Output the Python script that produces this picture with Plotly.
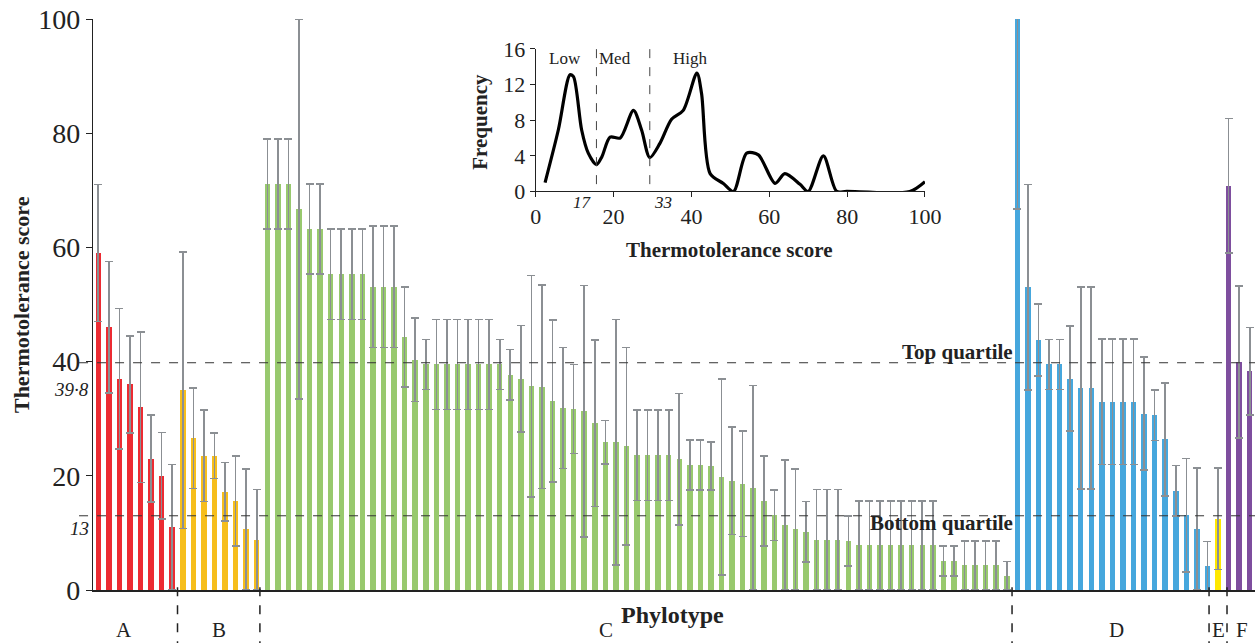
import plotly.graph_objects as go

# ---------------- data ----------------
A_vals = [59, 46, 37, 36, 32, 23, 20, 11]
A_err = [12, 11.5, 12.3, 8.5, 13.2, 7.6, 7.6, 11]
B_vals = [35, 26.6, 23.5, 23.5, 17.2, 15.6, 10.6, 8.8]
B_err = [24.2, 8.8, 8, 4, 5.1, 7.9, 10.6, 8.8]
C_vals = [71.1, 71.1, 71.1, 66.7, 63.2, 63.2, 55.3, 55.3, 55.3, 55.3,
          53.1, 53.1, 53.1, 44.3, 40.3, 39.5, 39.5, 39.5, 39.5, 39.5,
          39.5, 39.5, 39.5, 37.7, 37.0, 35.7, 35.6, 33.1, 31.9, 31.7,
          31.3, 29.2, 25.9, 25.9, 25.2, 23.6, 23.6, 23.6, 23.6, 22.9,
          21.9, 21.9, 21.7, 19.8, 19.1, 18.6, 17.9, 15.6, 13.1, 11.4,
          10.6, 10.2, 8.8, 8.8, 8.8, 8.6, 7.8, 7.8, 7.8, 7.8,
          7.8, 7.8, 7.8, 7.8, 5.1, 5.1, 4.3, 4.3, 4.3, 4.3, 2.5]
C_err = [7.9, 7.9, 7.9, 33.3, 7.9, 7.9, 7.9, 7.9, 7.9, 7.9,
         10.6, 10.6, 10.6, 8.8, 7.3, 4.4, 7.9, 7.9, 7.9, 7.9,
         7.9, 7.9, 4.4, 4.4, 9.3, 19.4, 17.8, 14.2, 10.6, 7.8,
         22, 14.6, 3.8, 21.5, 17.3, 7.9, 7.9, 7.9, 7.9, 11.5,
         4.4, 4.4, 4.2, 17.2, 9.4, 9.2, 17.9, 7.9, 4.4, 11.4,
         10.6, 5.3, 8.8, 8.8, 8.8, 4.4, 7.8, 7.8, 7.8, 7.8,
         7.8, 7.8, 7.8, 7.8, 2.6, 2.6, 4.3, 4.3, 4.3, 4.3, 2.5]
D_vals = [100, 53, 43.8, 39.5, 39.5, 37, 35.4, 35.4, 33, 33, 33, 33,
          30.9, 30.6, 26.4, 17.4, 13.1, 10.7, 4.2]
D_err = [33.3, 18, 6.3, 4.4, 4.4, 9.2, 17.7, 17.7, 11, 11, 11, 11,
         9.9, 4.4, 9.9, 4.4, 9.9, 10.7, 4.3]
E_vals = [12.5]
E_err = [8.9]
F_vals = [70.8, 39.9, 38.3]
F_err = [11.8, 13.3, 7.7]

groups = ["A", "B", "C", "D", "E", "F"]
group_vals = [A_vals, B_vals, C_vals, D_vals, E_vals, F_vals]
group_errs = [A_err, B_err, C_err, D_err, E_err, F_err]
group_colors = ["#EC2B32", "#F6BE1B", "#98C96E", "#46A7DD", "#FFE800", "#7E4E9E"]
group_label_x = [2.43, 11.43, 48.06, 96.43, 106.0, 108.3]
separators = [7.5, 15.3, 86.5, 105.15, 106.85]

top_quartile = 39.8
bottom_quartile = 13

# inset frequency curve
freq_x = [2.4, 5.8, 8.8, 9.7, 11.8, 13.5, 15.6, 17.0, 19.1, 21.7, 25.1, 27.2,
          29.3, 31.9, 34.9, 37.9, 41.4, 42.6, 44.8, 48.2, 50.8, 54.2, 57.2,
          61.5, 64.0, 67.9, 70.0, 73.9, 77.3, 79.9, 96.1, 100]
freq_y = [1.0, 6.9, 13.1, 12.9, 6.9, 4.3, 3.0, 3.9, 6.1, 6.0, 9.1, 6.9,
          3.8, 5.4, 8.1, 9.1, 13.3, 11.0, 2.0, 0.9, 0.0, 4.3, 4.1,
          0.9, 2.0, 0.8, 0.0, 4.0, 0.0, 0.0, 0.0, 1.1]
inset_cuts = [15.6, 29.3]
inset_cut_labels = ["17", "33"]
inset_classes = ["Low", "Med", "High"]
inset_class_x = [7.5, 20.4, 39.7]

FONT = "Liberation Serif"
ERRC = "#8b8f93"
TXT = "#222"
INSET_X = [0.381, 0.716]
INSET_Y = [0.698, 0.9475]

fig = go.Figure()
start = 0
for g, vals, errs, col in zip(groups, group_vals, group_errs, group_colors):
    xs = list(range(start, start + len(vals)))
    start += len(vals)
    fig.add_trace(go.Bar(
        x=xs, y=vals, width=0.52, marker=dict(color=col, line=dict(width=0)),
        error_y=dict(type="data", array=errs, visible=True, color=ERRC,
                     thickness=1.6, width=4),
        showlegend=False, name=g))

fig.add_trace(go.Scatter(
    x=freq_x, y=freq_y, mode="lines", xaxis="x2", yaxis="y2",
    line=dict(color="black", width=3.2, shape="spline", smoothing=0.8),
    showlegend=False))

shapes = []
for s in separators:
    shapes.append(dict(type="line", xref="x", yref="paper", x0=s, x1=s,
                       y0=0.005, y1=-0.095,
                       line=dict(color=TXT, width=1.5, dash="dash")))
for q in [top_quartile, bottom_quartile]:
    shapes.append(dict(type="line", xref="paper", yref="y", x0=-0.012, x1=1.0,
                       y0=q, y1=q, line=dict(color="#333", width=1, dash="dash")))
for c in inset_cuts:
    shapes.append(dict(type="line", xref="x2", yref="y2", x0=c, x1=c,
                       y0=-1.2, y1=16, line=dict(color="#444", width=1, dash="dash")))


def note(text, x, y, size, xref="paper", yref="paper", xanchor="center",
         yanchor="middle", angle=0):
    return dict(text=text, x=x, y=y, xref=xref, yref=yref, xanchor=xanchor,
                yanchor=yanchor, textangle=angle, showarrow=False,
                font=dict(family=FONT, size=size, color=TXT))


ann = []
for g, gx in zip(groups, group_label_x):
    ann.append(note(g, gx, -0.0695, 21, xref="x"))
ann.append(note("<b>Phylotype</b>", 0.499, -0.043, 24))
ann.append(note("<b>Thermotolerance score</b>", -0.0615, 0.5, 22, angle=-90))
ann.append(note("<i>39·8</i>", -0.002, 0.352, 19, xanchor="right"))
ann.append(note("<i>13</i>", -0.002, 0.107, 19, xanchor="right"))
ann.append(note("<b>Top quartile</b>", 0.7935, 0.4168, 21, xanchor="right"))
ann.append(note("<b>Bottom quartile</b>", 0.7935, 0.1173, 21, xanchor="right"))
# inset texts
ann.append(note("<b>Frequency</b>", 0.333, 0.82, 21, angle=-90))
ann.append(note("<b>Thermotolerance score</b>", 0.548, 0.595, 21))
for t, tx in zip(inset_classes, inset_class_x):
    ann.append(note(t, tx, 14.9, 17, xref="x2", yref="y2"))
for t, c in zip(inset_cut_labels, inset_cuts):
    px = INSET_X[0] + c / 100 * (INSET_X[1] - INSET_X[0])
    ann.append(note("<i>%s</i>" % t, px + (-0.002 if t == "17" else 0.002), 0.678, 17,
                    xanchor="right" if t == "17" else "left"))

fig.update_layout(
    width=1258, height=643,
    margin=dict(l=93, r=3, t=19, b=53),
    plot_bgcolor="white", paper_bgcolor="white",
    font=dict(family=FONT, color=TXT),
    bargap=0,
    xaxis=dict(range=[-0.5, 109.5], showticklabels=False, ticks="", showgrid=False,
               zeroline=False, showline=True, linecolor=TXT, linewidth=2,
               automargin=False),
    yaxis=dict(range=[0, 100], tickvals=[0, 20, 40, 60, 80, 100], ticks="outside",
               ticklen=6, tickcolor=TXT, showgrid=False, zeroline=False,
               showline=True, linecolor=TXT, linewidth=1.3, automargin=False,
               tickfont=dict(family=FONT, size=28, color=TXT)),
    xaxis2=dict(domain=INSET_X, range=[0, 100], anchor="y2",
                tickvals=[0, 20, 40, 60, 80, 100], ticks="outside", ticklen=5,
                tickcolor=TXT, showline=True, linecolor=TXT, linewidth=1,
                showgrid=False, zeroline=False, automargin=False,
                tickfont=dict(family=FONT, size=22, color=TXT)),
    yaxis2=dict(domain=INSET_Y, range=[0, 16], anchor="x2",
                tickvals=[0, 4, 8, 12, 16], ticks="outside", ticklen=5,
                tickcolor=TXT, showline=True, linecolor=TXT, linewidth=1,
                showgrid=False, zeroline=False, automargin=False,
                tickfont=dict(family=FONT, size=22, color=TXT)),
    shapes=shapes, annotations=ann,
)

# remove the browser's default 8px page margin so the figure fills the window
fig.write_html("out.html", config={"displayModeBar": False},
               post_script="document.body.style.margin='0';"
                           "document.body.style.overflow='hidden';")
